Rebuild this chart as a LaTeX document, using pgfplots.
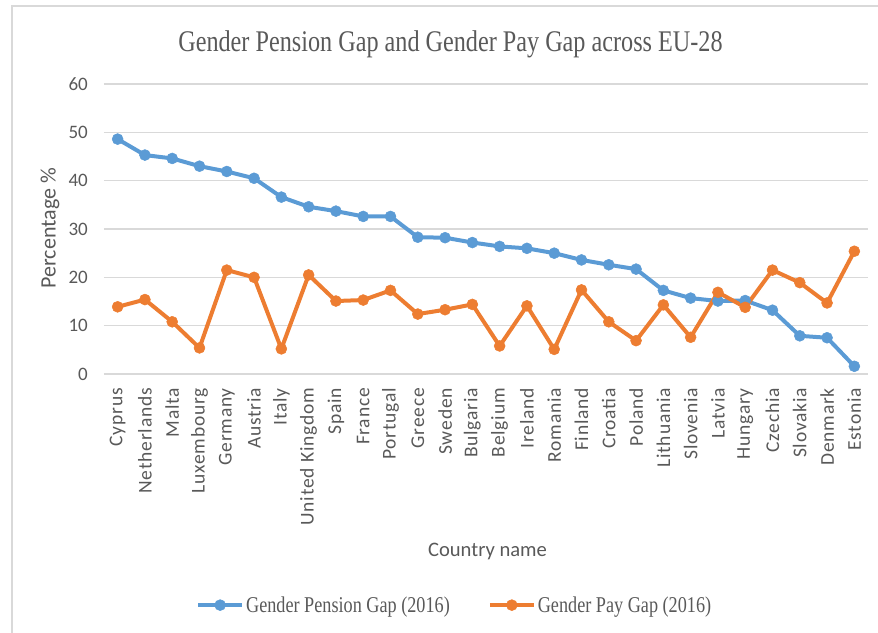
\documentclass[border=0pt]{standalone}
\usepackage{pgfplots}
\usepackage{pgfplotstable}
\pgfplotsset{compat=1.18}
\usepackage{fontspec}
\setmainfont{Liberation Serif}
\newfontfamily\carlito{Carlito}
\newfontfamily\carlitosp[LetterSpace=4]{Carlito}
\definecolor{pblue}{HTML}{5B9BD5}
\definecolor{porange}{HTML}{ED7D31}
\definecolor{gridc}{HTML}{D9D9D9}
\definecolor{txt}{HTML}{595959}
\pgfplotstableread{
idx pension pay
0 48.6 13.9
1 45.3 15.4
2 44.6 10.8
3 43.0 5.4
4 41.9 21.5
5 40.5 20.0
6 36.6 5.2
7 34.6 20.5
8 33.7 15.1
9 32.6 15.3
10 32.6 17.3
11 28.3 12.4
12 28.2 13.3
13 27.2 14.4
14 26.4 5.8
15 26.0 14.1
16 25.0 5.1
17 23.6 17.4
18 22.6 10.8
19 21.7 6.9
20 17.3 14.3
21 15.7 7.6
22 15.1 16.9
23 15.2 13.8
24 13.2 21.5
25 7.9 18.9
26 7.5 14.7
27 1.6 25.4
}\datatable
\begin{document}
\begin{tikzpicture}
\path[use as bounding box] (-104pt,-258pt) rectangle (774pt,374pt);
\draw[gridc, line width=2pt] (-92pt,-260pt) -- (-92pt,368pt) -- (776pt,368pt);
\node[anchor=base, text=txt] at (346.5pt,322.3pt) {\scalebox{1}[1.24]{\fontsize{24.2}{29}\selectfont Gender Pension Gap and Gender Pay Gap across EU-28}};
\begin{axis}[
  scale only axis,
  width=764pt, height=290pt,
  xmin=-0.5, xmax=27.5, ymin=0, ymax=60,
  xtick={0,...,27},
  xticklabels={Cyprus,Netherlands,Malta,Luxembourg,Germany,Austria,Italy,United Kingdom,Spain,France,Portugal,Greece,Sweden,Bulgaria,Belgium,Ireland,Romania,Finland,Croatia,Poland,Lithuania,Slovenia,Latvia,Hungary,Czechia,Slovakia,Denmark,Estonia},
  ytick={0,10,...,60},
  major tick length=0pt,
  axis line style={draw=none},
  ymajorgrids,
  grid style={gridc, line width=1.5pt},
  /pgf/number format/assume math mode=true,
  xticklabel style={rotate=90, anchor=east, inner sep=0pt, font=\carlitosp\fontsize{19.5}{22}\selectfont, text=txt},
  xticklabel shift=14pt,
  yticklabel style={anchor=east, inner sep=0pt, font=\carlito\fontsize{19}{22}\selectfont, text=txt},
  yticklabel shift=16pt,
  xlabel={Country name},
  xlabel style={at={(axis description cs:0.502,-0.630)}, anchor=base, font=\carlito\fontsize{20.6}{24}\selectfont, text=txt},
  ylabel={Percentage \%},
  ylabel style={at={(axis description cs:-0.0707,0.503)}, anchor=center, font=\carlito\fontsize{22}{26}\selectfont, text=txt},
  legend columns=2,
  legend style={at={(axis description cs:0.459,-0.797)}, anchor=center, draw=none, fill=none,
    font=\fontsize{18.2}{22}\selectfont, text=txt,
    /tikz/every even column/.append style={column sep=36pt}},
  legend cell align=left,
  legend image code/.code={\draw[mark repeat=2, mark phase=2, #1] plot coordinates {(0pt,0pt) (22pt,0pt) (44pt,0pt)};},
]
\addplot[pblue, line width=4pt, line join=round, mark=*, mark size=5.5pt, mark options={solid, fill=pblue, line width=0.5pt}] table[x=idx, y=pension] {\datatable};
\addlegendentry{\scalebox{1}[1.24]{Gender Pension Gap (2016)}}
\addplot[porange, line width=4pt, line join=round, mark=*, mark size=5.5pt, mark options={solid, fill=porange, line width=0.5pt}] table[x=idx, y=pay] {\datatable};
\addlegendentry{\scalebox{1}[1.24]{Gender Pay Gap (2016)}}
\end{axis}
\end{tikzpicture}
\end{document}
